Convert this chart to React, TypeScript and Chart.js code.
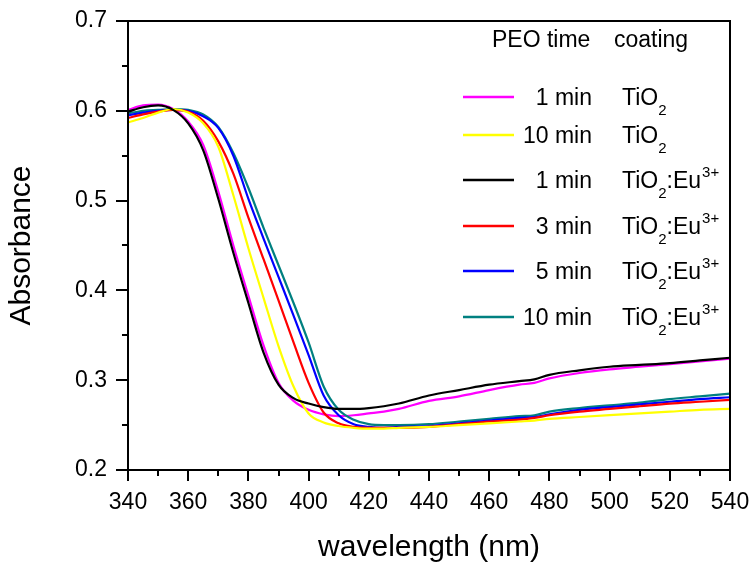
import React, { useEffect, useRef } from "react";
import { Chart, registerables } from "chart.js";

Chart.register(...registerables);

// ---- data ----
const wavelengths = [340, 345, 350, 355, 360, 365, 370, 375, 380, 385, 390, 395, 400, 405, 410, 415, 420, 425, 430, 440, 450, 460, 470, 475, 480, 490, 500, 510, 520, 530, 540];

const magenta1minTiO2 = [0.601, 0.606, 0.607, 0.602, 0.588, 0.562, 0.510, 0.450, 0.394, 0.339, 0.297, 0.277, 0.267, 0.262, 0.260, 0.261, 0.263, 0.265, 0.268, 0.277, 0.282, 0.289, 0.295, 0.297, 0.302, 0.308, 0.312, 0.315, 0.318, 0.321, 0.324];
const yellow10minTiO2 = [0.587, 0.592, 0.598, 0.602, 0.598, 0.586, 0.560, 0.506, 0.447, 0.392, 0.338, 0.293, 0.263, 0.253, 0.249, 0.247, 0.246, 0.246, 0.247, 0.248, 0.250, 0.252, 0.254, 0.255, 0.257, 0.259, 0.261, 0.263, 0.265, 0.267, 0.268];
const black1minEu = [0.599, 0.604, 0.606, 0.601, 0.586, 0.556, 0.502, 0.442, 0.386, 0.331, 0.295, 0.280, 0.274, 0.270, 0.268, 0.268, 0.269, 0.271, 0.274, 0.283, 0.289, 0.295, 0.299, 0.301, 0.306, 0.311, 0.315, 0.317, 0.319, 0.322, 0.325];
const red3minEu = [0.592, 0.596, 0.599, 0.601, 0.599, 0.589, 0.566, 0.530, 0.481, 0.435, 0.389, 0.342, 0.297, 0.264, 0.252, 0.248, 0.247, 0.247, 0.247, 0.248, 0.251, 0.254, 0.256, 0.258, 0.261, 0.265, 0.268, 0.271, 0.274, 0.276, 0.278];
const blue5minEu = [0.595, 0.598, 0.600, 0.601, 0.600, 0.594, 0.581, 0.550, 0.502, 0.458, 0.415, 0.372, 0.328, 0.283, 0.261, 0.251, 0.248, 0.247, 0.248, 0.249, 0.252, 0.255, 0.258, 0.259, 0.262, 0.267, 0.270, 0.273, 0.276, 0.279, 0.281];
const teal10minEu = [0.597, 0.600, 0.601, 0.602, 0.601, 0.596, 0.582, 0.553, 0.514, 0.470, 0.428, 0.386, 0.342, 0.293, 0.267, 0.256, 0.251, 0.250, 0.250, 0.251, 0.254, 0.257, 0.260, 0.261, 0.265, 0.269, 0.272, 0.275, 0.279, 0.282, 0.285];

const legendTimes = ["1 min", "10 min", "1 min", "3 min", "5 min", "10 min"];
const legendCoatings = ["TiO2", "TiO2", "TiO2:Eu3+", "TiO2:Eu3+", "TiO2:Eu3+", "TiO2:Eu3+"];
const legendColors = ["#FF00FF", "#FFFF00", "#000000", "#FF0000", "#0000FF", "#008080"];
const legendHeader = ["PEO time", "coating"];

const xTickMin = 340;
const xTickMax = 540;
const yTickMin = 0.2;
const yTickMax = 0.7;

const FONT = "'Liberation Sans', Arial, Helvetica, sans-serif";

const toPoints = (ys: number[]) => wavelengths.map((x, i) => ({ x, y: ys[i] }));

const framePlugin = {
  id: "frameAndTicks",
  afterDraw(chart: any) {
    const { ctx, chartArea, scales } = chart;
    const { left, right, top, bottom } = chartArea;
    const xs = scales.x;
    const ys = scales.y;
    ctx.save();
    ctx.strokeStyle = "#000";
    ctx.lineWidth = 2;
    ctx.strokeRect(left, top, right - left, bottom - top);
    ctx.beginPath();
    for (let v = xTickMin; v <= xTickMax + 0.01; v += 10) {
      const px = Math.round(xs.getPixelForValue(v));
      const major = Math.round(v) % 20 === 0;
      ctx.moveTo(px, bottom);
      ctx.lineTo(px, bottom + (major ? 11 : 6));
    }
    for (let i = 0; i <= 10; i++) {
      const v = yTickMin + i * 0.05;
      const py = Math.round(ys.getPixelForValue(v));
      const major = i % 2 === 0;
      ctx.moveTo(left - (major ? 12 : 6), py);
      ctx.lineTo(left, py);
    }
    ctx.stroke();

    // legend
    const rowY = [97, 135, 180, 226, 271, 317];
    const LF = 23;
    ctx.fillStyle = "#000";
    ctx.textBaseline = "alphabetic";
    ctx.font = `${LF}px ${FONT}`;
    ctx.textAlign = "left";
    ctx.fillText(legendHeader[0], 492, 47);
    ctx.fillText(legendHeader[1], 614, 47);
    legendTimes.forEach((t, i) => {
      const y = rowY[i];
      ctx.strokeStyle = legendColors[i];
      ctx.lineWidth = 2.5;
      ctx.beginPath();
      ctx.moveTo(463, y);
      ctx.lineTo(514, y);
      ctx.stroke();
      ctx.fillStyle = "#000";
      ctx.font = `${LF}px ${FONT}`;
      ctx.textAlign = "right";
      ctx.fillText(t, 592, y + 8);
      ctx.textAlign = "left";
      const coat = legendCoatings[i];
      let cx = 622;
      const m = coat.match(/^TiO2(:Eu)?(3\+)?$/);
      ctx.font = `${LF}px ${FONT}`;
      ctx.fillText("TiO", cx, y + 8);
      cx += ctx.measureText("TiO").width;
      ctx.font = `15px ${FONT}`;
      ctx.fillText("2", cx, y + 18);
      cx += ctx.measureText("2").width;
      if (m && m[1]) {
        ctx.font = `${LF}px ${FONT}`;
        ctx.fillText(":Eu", cx, y + 8);
        cx += ctx.measureText(":Eu").width;
      }
      if (m && m[2]) {
        ctx.font = `15px ${FONT}`;
        ctx.fillText("3+", cx + 1, y - 3);
      }
    });
    ctx.restore();
  },
};

export default function App() {
  const canvasRef = useRef<HTMLCanvasElement | null>(null);

  useEffect(() => {
    document.body.style.margin = "0";
    const canvas = canvasRef.current;
    if (!canvas) return;
    const mk = (data: number[], color: string) => ({
      data: toPoints(data),
      borderColor: color,
      backgroundColor: color,
      borderWidth: 2.2,
      pointRadius: 0,
      cubicInterpolationMode: "monotone" as const,
      fill: false,
    });
    const chart = new Chart(canvas, {
      type: "line",
      data: {
        datasets: [
          mk(black1minEu, "#000000"),
          mk(yellow10minTiO2, "#FFFF00"),
          mk(red3minEu, "#FF0000"),
          mk(blue5minEu, "#0000FF"),
          mk(teal10minEu, "#008080"),
          mk(magenta1minTiO2, "#FF00FF"),
        ],
      },
      options: {
        animation: false,
        responsive: false,
        maintainAspectRatio: false,
        devicePixelRatio: 1,
        layout: { padding: { left: 0, right: 26, top: 21, bottom: 0 } },
        plugins: { legend: { display: false }, tooltip: { enabled: false } },
        scales: {
          x: {
            type: "linear",
            min: xTickMin,
            max: xTickMax,
            grid: { display: false, drawTicks: false, tickLength: 0 },
            border: { display: false },
            ticks: {
              stepSize: 20,
              padding: 19,
              color: "#000",
              font: { family: FONT, size: 23 },
              maxRotation: 0,
              autoSkip: false,
              callback: (v: any) => String(v),
            },
            title: {
              display: true,
              text: "wavelength (nm)",
              color: "#000",
              font: { family: FONT, size: 30 },
              padding: { top: 0, bottom: 2 },
            },
            afterFit: (s: any) => {
              s.height = 98;
              s.paddingLeft = 0;
              s.paddingRight = 0;
            },
          },
          y: {
            type: "linear",
            min: yTickMin,
            max: yTickMax,
            grid: { display: false, drawTicks: false, tickLength: 0 },
            border: { display: false },
            ticks: {
              stepSize: 0.1,
              padding: 21,
              color: "#000",
              font: { family: FONT, size: 23 },
              callback: (v: any) => Number(v).toFixed(1),
            },
            title: {
              display: true,
              text: "Absorbance",
              color: "#000",
              font: { family: FONT, size: 30 },
              padding: { top: 4, bottom: 0 },
            },
            afterFit: (s: any) => {
              s.width = 128;
              s.paddingTop = 0;
              s.paddingBottom = 0;
            },
          },
        },
      },
      plugins: [framePlugin],
    });
    return () => chart.destroy();
  }, []);

  return (
    <div style={{ position: "fixed", left: 0, top: 0, width: 756, height: 568, background: "#fff" }}>
      <canvas ref={canvasRef} width={756} height={568} style={{ display: "block" }} />
    </div>
  );
}
